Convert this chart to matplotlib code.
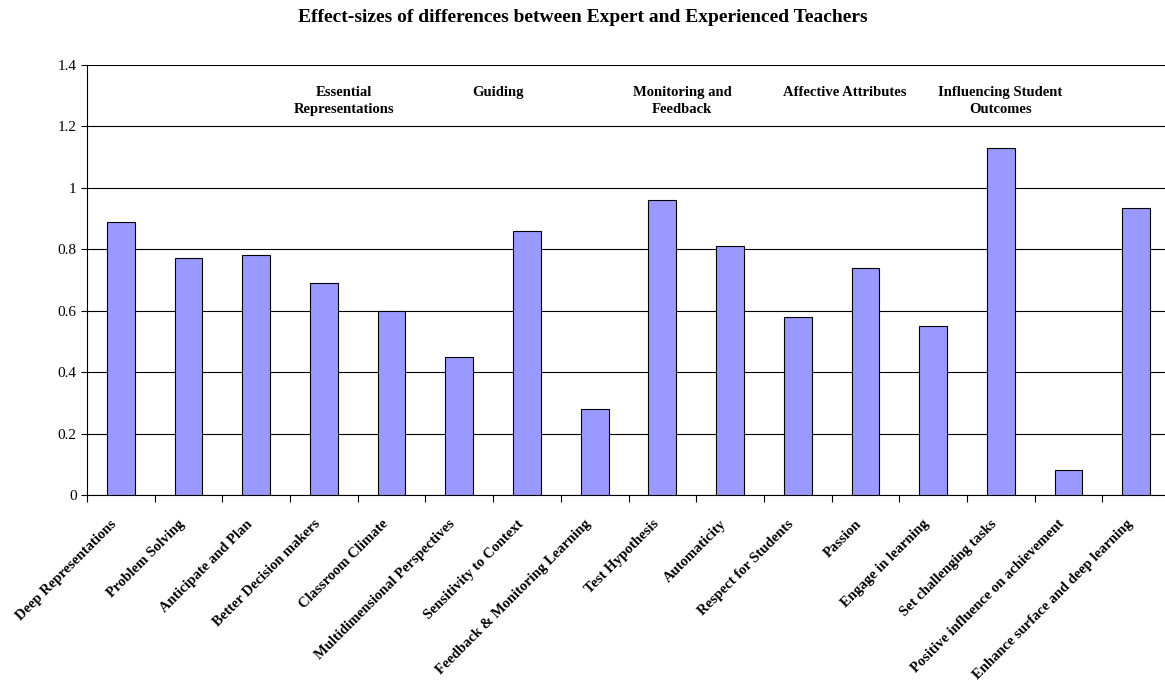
import numpy as np
import matplotlib.pyplot as plt

categories = ["Deep Representations", "Problem Solving", "Anticipate and Plan",
              "Better Decision makers", "Classroom Climate",
              "Multidimensional Perspectives", "Sensitivity to Context",
              "Feedback & Monitoring Learning", "Test Hypothesis", "Automaticity",
              "Respect for Students", "Passion", "Engage in learning",
              "Set challenging tasks", "Positive influence on achievement",
              "Enhance surface and deep learning"]
effect_sizes = [0.89, 0.77, 0.78, 0.69, 0.60, 0.45, 0.86, 0.28,
                0.96, 0.81, 0.58, 0.74, 0.55, 1.13, 0.08, 0.935]

groups = ["Essential\nRepresentations", "Guiding", "Monitoring and\nFeedback",
          "Affective Attributes", "Influencing Student\nOutcomes"]
group_x = [3.3, 5.57, 8.29, 10.69, 12.99]

plt.rcParams['font.family'] = ['Liberation Serif', 'DejaVu Serif']

fig = plt.figure(figsize=(11.65, 6.85), dpi=100)
ax = fig.add_axes([0.0747, 0.2774, 0.9296, 0.6277])

x = np.arange(len(categories))
ax.bar(x, effect_sizes, width=0.41, color='#9999FF', edgecolor='black',
       linewidth=0.8, zorder=3)

ax.set_xlim(-0.5, len(categories) - 0.5)
ax.set_ylim(0, 1.4)
ax.set_yticks(np.arange(0, 1.41, 0.2))
ax.set_yticklabels(["0", "0.2", "0.4", "0.6", "0.8", "1", "1.2", "1.4"], fontsize=11)
ax.yaxis.grid(True, color='black', linewidth=0.8, zorder=0)
ax.tick_params(axis='y', length=4, width=0.8, direction='out')

# category boundaries get the tick marks, names are placed by hand
ax.set_xticks(np.arange(-0.5, len(categories), 1))
ax.set_xticklabels([])
ax.tick_params(axis='x', length=5, width=0.8, direction='out')
for i, name in enumerate(categories):
    ax.annotate(name, xy=(i, 0), xycoords=('data', 'axes fraction'),
                xytext=(-7.5, -16), textcoords='offset points',
                rotation=45, ha='right', va='top', rotation_mode='anchor',
                fontsize=10.5, fontweight='bold')

for s in ['top', 'right']:
    ax.spines[s].set_visible(False)
for s in ['left', 'bottom']:
    ax.spines[s].set_linewidth(0.8)

for label, gx in zip(groups, group_x):
    ax.text(gx, 1.333, label, ha='center', va='top', fontsize=10.5,
            fontweight='bold', linespacing=1.4)

fig.text(0.5, 0.975, "Effect-sizes of differences between Expert and Experienced Teachers",
         ha='center', va='center', fontsize=14, fontweight='bold')

fig.savefig('out.png', dpi=100)
